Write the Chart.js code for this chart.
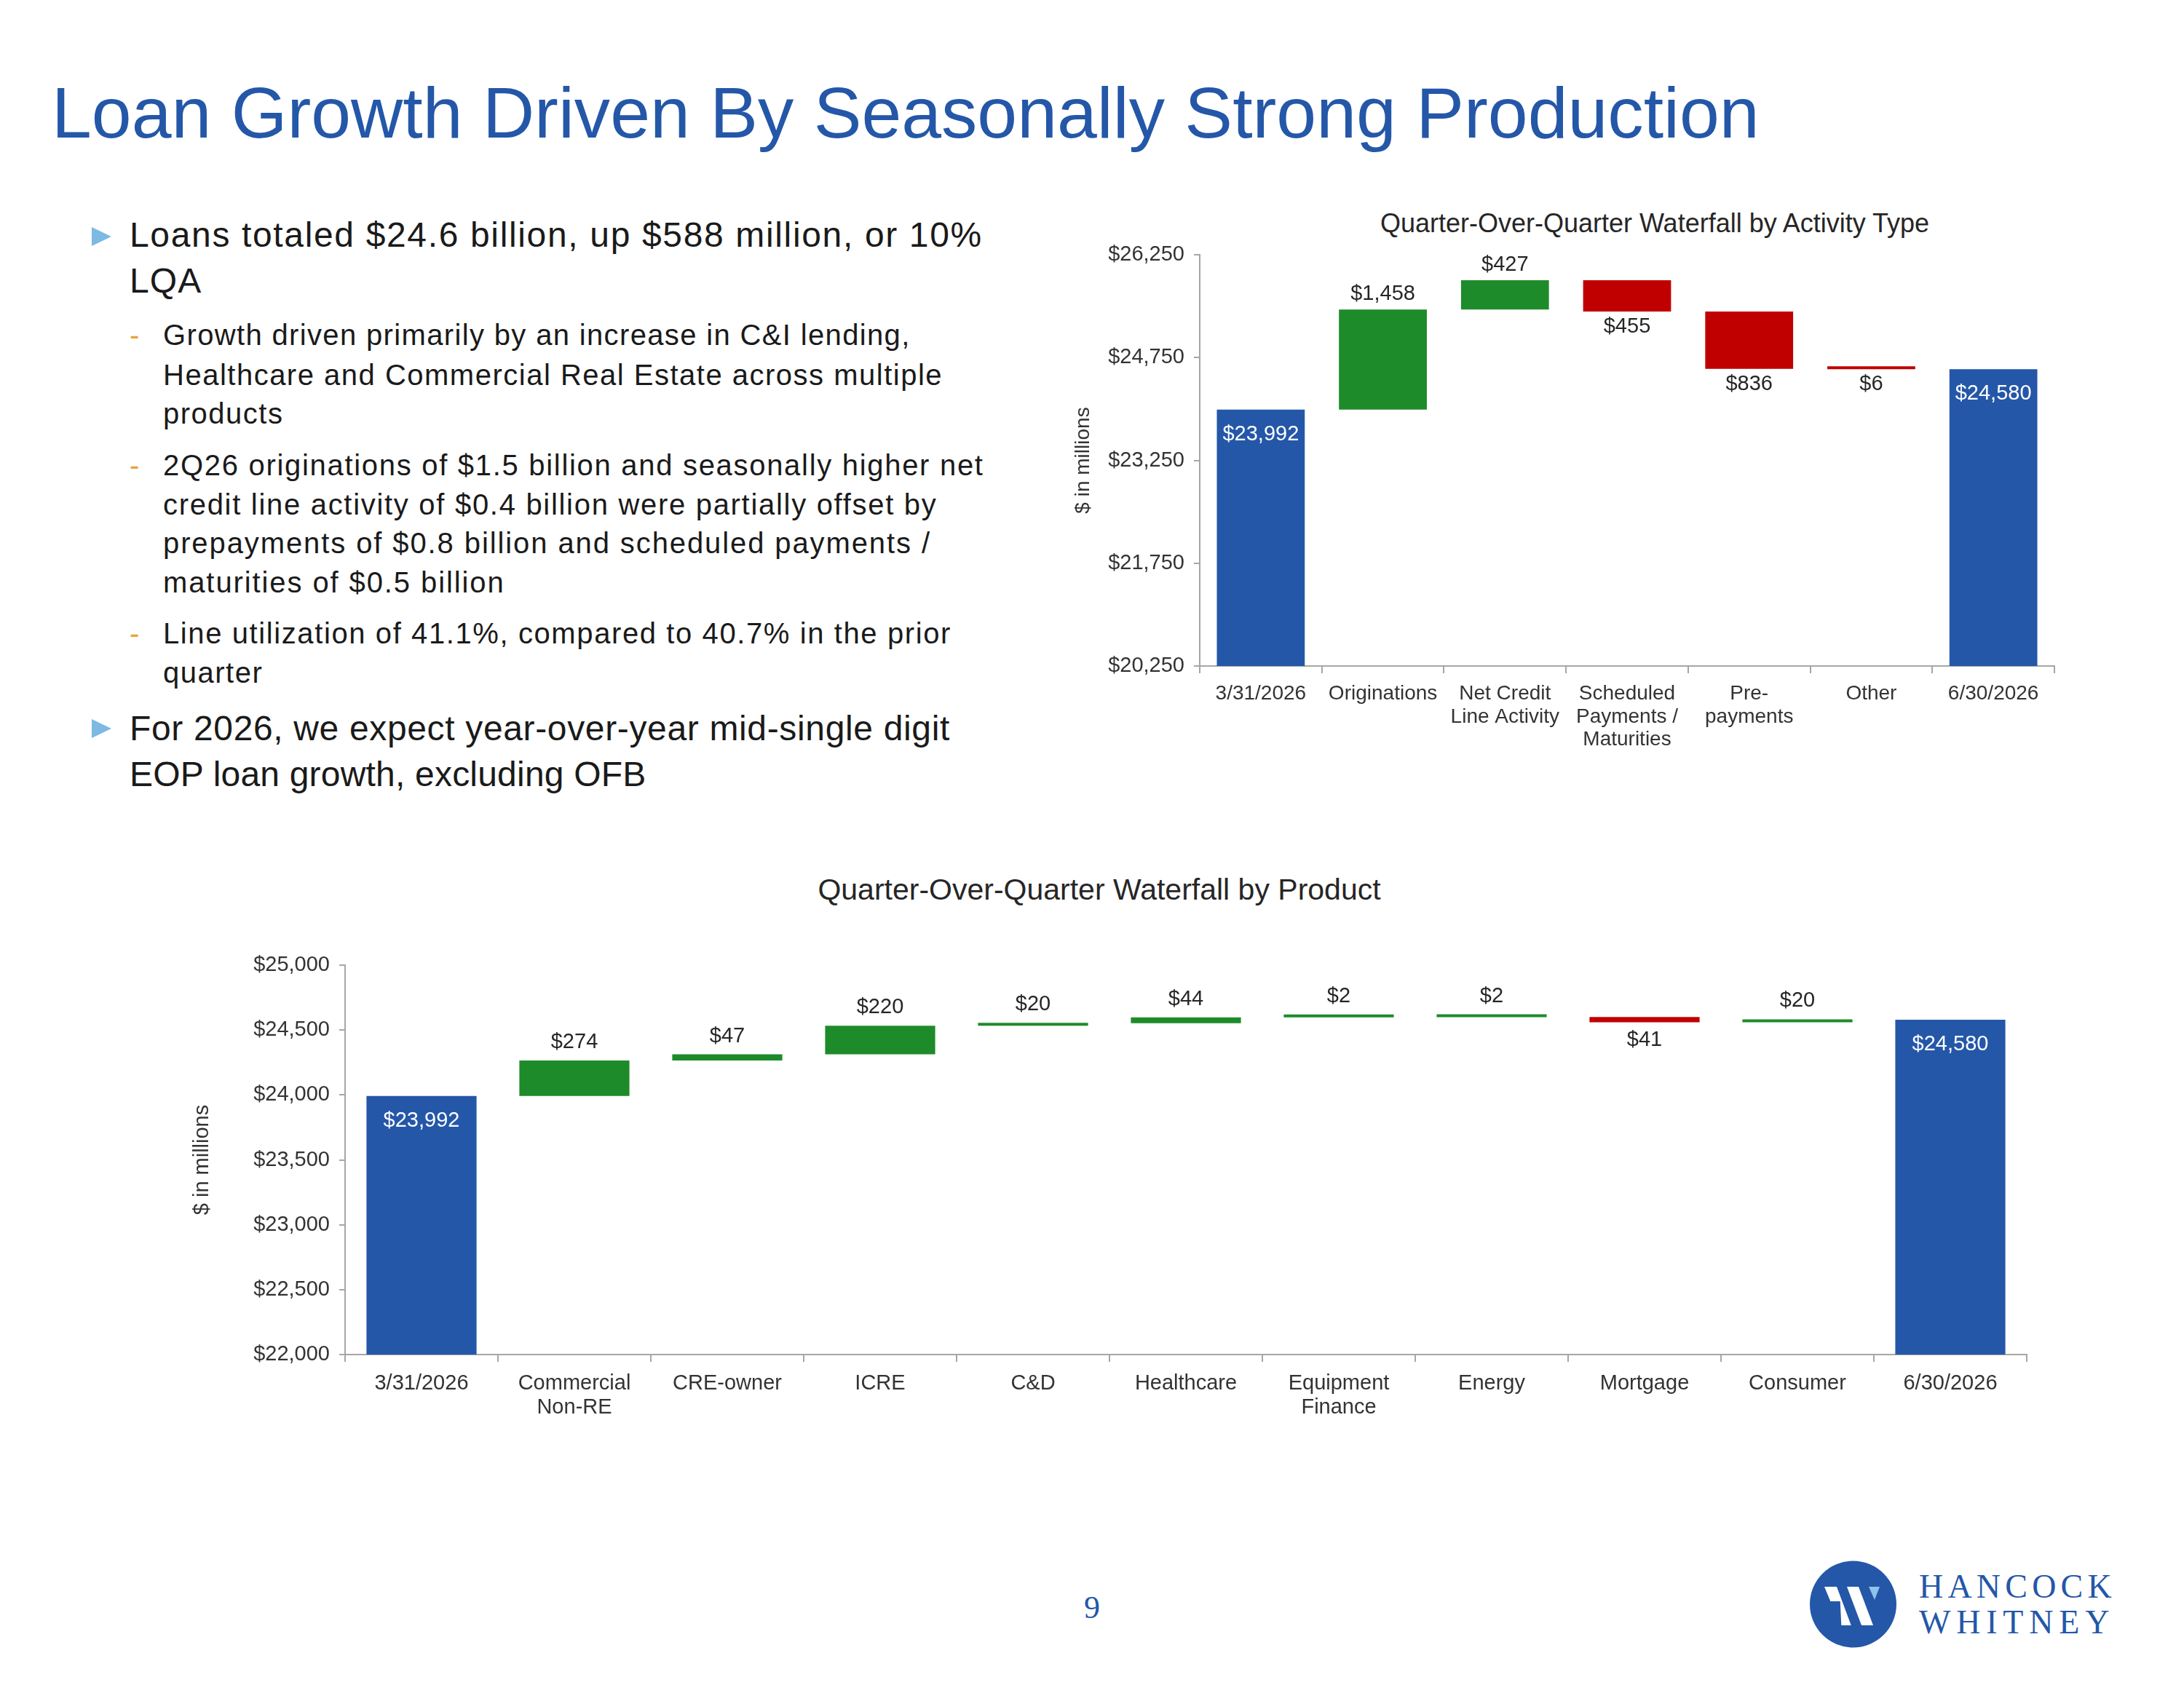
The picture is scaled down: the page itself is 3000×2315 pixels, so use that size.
<!DOCTYPE html>
<html>
<head>
<meta charset="utf-8">
<script src="https://cdn.jsdelivr.net/npm/chart.js@4.4.1/dist/chart.umd.min.js"></script>
<style>
  html, body { margin: 0; padding: 0; background: #ffffff; }
  body { width: 3000px; height: 2315px; position: relative; overflow: hidden;
         font-family: 'Liberation Sans', Arial, sans-serif; color: #1a1a1a; }
  .abs { position: absolute; white-space: nowrap; line-height: 1.2; }
  .title { left: 71px; top: 96px; font-size: 98.6px; color: #2457A8; }
  .l1 { left: 178px; font-size: 48px; letter-spacing: 1.1px; }
  .l2 { left: 224px; font-size: 40px; letter-spacing: 1.5px; }
  .tri { position: absolute; left: 126px; width: 0; height: 0;
         border-top: 13px solid transparent; border-bottom: 13px solid transparent;
         border-left: 27px solid #7DB9E3; }
  .dash { left: 178px; font-size: 40px; color: #E9A23B; }
  .ctitle { font-size: 36px; color: #262626; transform: translateX(-50%); }
  canvas { position: absolute; }
  .pnum { left: 1500px; top: 2183px; font-family: 'Liberation Serif', serif; font-size: 44px;
          color: #2457A8; transform: translateX(-50%); }
  .brand { font-family: 'Liberation Serif', 'DejaVu Serif', serif; font-size: 46px; color: #2457A8;
           left: 2636px; }
</style>
</head>
<body>
<div class="abs title">Loan Growth Driven By Seasonally Strong Production</div>

<div class="tri" style="top:312px"></div>
<div class="abs l1" style="top:294px; letter-spacing:1.65px;">Loans totaled $24.6 billion, up $588 million, or 10%</div>
<div class="abs l1" style="top:357px">LQA</div>

<div class="abs dash" style="top:436px">-</div>
<div class="abs l2" style="top:436px; letter-spacing:1.35px;">Growth driven primarily by an increase in C&amp;I lending,</div>
<div class="abs l2" style="top:491px">Healthcare and Commercial Real Estate across multiple</div>
<div class="abs l2" style="top:544px">products</div>

<div class="abs dash" style="top:615px">-</div>
<div class="abs l2" style="top:615px; letter-spacing:1.7px;">2Q26 originations of $1.5 billion and seasonally higher net</div>
<div class="abs l2" style="top:669px; letter-spacing:1.7px;">credit line activity of $0.4 billion were partially offset by</div>
<div class="abs l2" style="top:722px; letter-spacing:1.9px;">prepayments of $0.8 billion and scheduled payments /</div>
<div class="abs l2" style="top:776px; letter-spacing:1.9px;">maturities of $0.5 billion</div>

<div class="abs dash" style="top:846px">-</div>
<div class="abs l2" style="top:846px; letter-spacing:1.6px;">Line utilization of 41.1%, compared to 40.7% in the prior</div>
<div class="abs l2" style="top:900px">quarter</div>

<div class="tri" style="top:988px"></div>
<div class="abs l1" style="top:972px; letter-spacing:0.65px;">For 2026, we expect year-over-year mid-single digit</div>
<div class="abs l1" style="top:1035px; letter-spacing:0.2px;">EOP loan growth, excluding OFB</div>

<div class="abs ctitle" style="left:2273px; top:285px;">Quarter-Over-Quarter Waterfall by Activity Type</div>
<div class="abs ctitle" style="left:1510px; top:1198px; font-size:41px;">Quarter-Over-Quarter Waterfall by Product</div>

<canvas id="topChart" width="1420" height="780" style="left:1440px; top:300px; width:1420px; height:780px;"></canvas>
<canvas id="bottomChart" width="2600" height="720" style="left:230px; top:1276px; width:2600px; height:720px;"></canvas>

<div class="abs pnum">9</div>

<svg style="position:absolute; left:2470px; top:2130px;" width="150" height="150" viewBox="0 0 150 150">
  <circle cx="75.5" cy="74" r="59.5" fill="#2457A8"/>
  <polygon points="36,50 53,50 72.7,103 59.3,103 57.7,70 44.3,70" fill="#ffffff"/>
  <polygon points="67,50 83,50 103,103 87,103" fill="#ffffff"/>
  <polygon points="97,50 112,50 105,68" fill="#8CC4EA"/>
</svg>
<div class="abs brand" style="top:2152px; letter-spacing:6.2px;">HANCOCK</div>
<div class="abs brand" style="top:2201px; letter-spacing:7.8px;">WHITNEY</div>

<script>
// ---------------- DATA ----------------
const topCategories = [['3/31/2026'], ['Originations'], ['Net Credit', 'Line Activity'],
  ['Scheduled', 'Payments /', 'Maturities'], ['Pre-', 'payments'], ['Other'], ['6/30/2026']];
const topStartTotal = 23992;
const topChanges = [1458, 427, -455, -836, -6];
const topEndTotal = 24580;
const topTicks = [20250, 21750, 23250, 24750, 26250];

const bottomCategories = [['3/31/2026'], ['Commercial', 'Non-RE'], ['CRE-owner'], ['ICRE'], ['C&D'],
  ['Healthcare'], ['Equipment', 'Finance'], ['Energy'], ['Mortgage'], ['Consumer'], ['6/30/2026']];
const bottomStartTotal = 23992;
const bottomChanges = [274, 47, 220, 20, 44, 2, 2, -41, 20];
const bottomEndTotal = 24580;
const bottomTicks = [22000, 22500, 23000, 23500, 24000, 24500, 25000];

// ---------------- STYLE ----------------
const COLORS = { total: '#2457A8', up: '#1E8B2A', down: '#C00000' };
const FONT = "'Liberation Sans', Arial, sans-serif";
const AXIS_COLOR = '#A6A6A6';
const TEXT_COLOR = '#333333';

function buildWaterfall(start, changes, end, axisMin) {
  const data = [[axisMin, start]];
  const kinds = ['total'];
  const amounts = [start];
  let run = start;
  changes.forEach(c => {
    data.push([run, run + c]);
    kinds.push(c >= 0 ? 'up' : 'down');
    amounts.push(Math.abs(c));
    run += c;
  });
  data.push([axisMin, end]);
  kinds.push('total');
  amounts.push(end);
  return { data, kinds, amounts };
}

const waterfallLabels = {
  id: 'waterfallLabels',
  afterDatasetsDraw(chart, args, opts) {
    const ctx = chart.ctx;
    const ds = chart.data.datasets[0];
    const meta = chart.getDatasetMeta(0);
    ctx.save();
    ctx.font = opts.size + 'px ' + FONT;
    ctx.textAlign = 'center';
    ctx.textBaseline = 'middle';
    meta.data.forEach((bar, i) => {
      const kind = ds.kinds[i];
      const txt = '$' + ds.amounts[i].toLocaleString('en-US');
      const top = Math.min(bar.y, bar.base);
      const bottom = Math.max(bar.y, bar.base);
      let y;
      if (kind === 'total') { ctx.fillStyle = '#ffffff'; y = top + opts.inside; }
      else if (kind === 'up') { ctx.fillStyle = opts.color; y = top - opts.gap; }
      else { ctx.fillStyle = opts.color; y = bottom + opts.gap; }
      ctx.fillText(txt, bar.x, y);
    });
    ctx.restore();
  }
};

function makeChart(id, cats, wf, ticks, layout) {
  const yMin = ticks[0], yMax = ticks[ticks.length - 1], step = ticks[1] - ticks[0];
  return new Chart(document.getElementById(id), {
    type: 'bar',
    data: {
      labels: cats,
      datasets: [{
        data: wf.data,
        kinds: wf.kinds,
        amounts: wf.amounts,
        backgroundColor: wf.kinds.map(k => COLORS[k]),
        borderWidth: 0,
        barPercentage: 0.72,
        categoryPercentage: 1.0,
        minBarLength: 4
      }]
    },
    options: {
      responsive: false,
      animation: false,
      devicePixelRatio: 1,
      layout: { padding: { top: layout.padTop, right: layout.padRight, left: 0, bottom: 0 } },
      plugins: {
        legend: { display: false },
        tooltip: { enabled: false },
        waterfallLabels: { size: layout.labelSize, gap: layout.gap, inside: 34, color: '#262626' }
      },
      scales: {
        x: {
          grid: { display: true, drawOnChartArea: false, offset: true, color: AXIS_COLOR, tickLength: 10, lineWidth: 2 },
          border: { display: true, color: AXIS_COLOR, width: 2 },
          ticks: { color: TEXT_COLOR, font: { family: FONT, size: layout.xFont, lineHeight: layout.xLine }, padding: 13, maxRotation: 0, autoSkip: false },
          afterFit(s) { s.height = layout.xHeight; }
        },
        y: {
          min: yMin, max: yMax,
          grid: { display: true, drawOnChartArea: false, color: AXIS_COLOR, tickLength: 8, lineWidth: 2 },
          border: { display: true, color: AXIS_COLOR, width: 2 },
          ticks: {
            stepSize: step, color: TEXT_COLOR, padding: 13,
            font: { family: FONT, size: 29 },
            callback: v => '$' + Number(v).toLocaleString('en-US')
          },
          title: { display: true, text: '$ in millions', color: TEXT_COLOR,
                   font: { family: FONT, size: layout.yTitleSize, lineHeight: 1.2 }, padding: { top: layout.titlePad, bottom: 0 } },
          afterFit(s) { s.width = layout.yWidth; }
        }
      }
    },
    plugins: [waterfallLabels]
  });
}

makeChart('topChart', topCategories,
  buildWaterfall(topStartTotal, topChanges, topEndTotal, topTicks[0]), topTicks,
  { padTop: 50, padRight: 38, yWidth: 208, xHeight: 165, titlePad: 31, yTitleSize: 28, xFont: 28, xLine: 1.12, labelSize: 29, gap: 21 });

makeChart('bottomChart', bottomCategories,
  buildWaterfall(bottomStartTotal, bottomChanges, bottomEndTotal, bottomTicks[0]), bottomTicks,
  { padTop: 50, padRight: 46, yWidth: 244, xHeight: 135, titlePad: 31, yTitleSize: 29, xFont: 29, xLine: 1.15, labelSize: 29, gap: 25 });
</script>
</body>
</html>
